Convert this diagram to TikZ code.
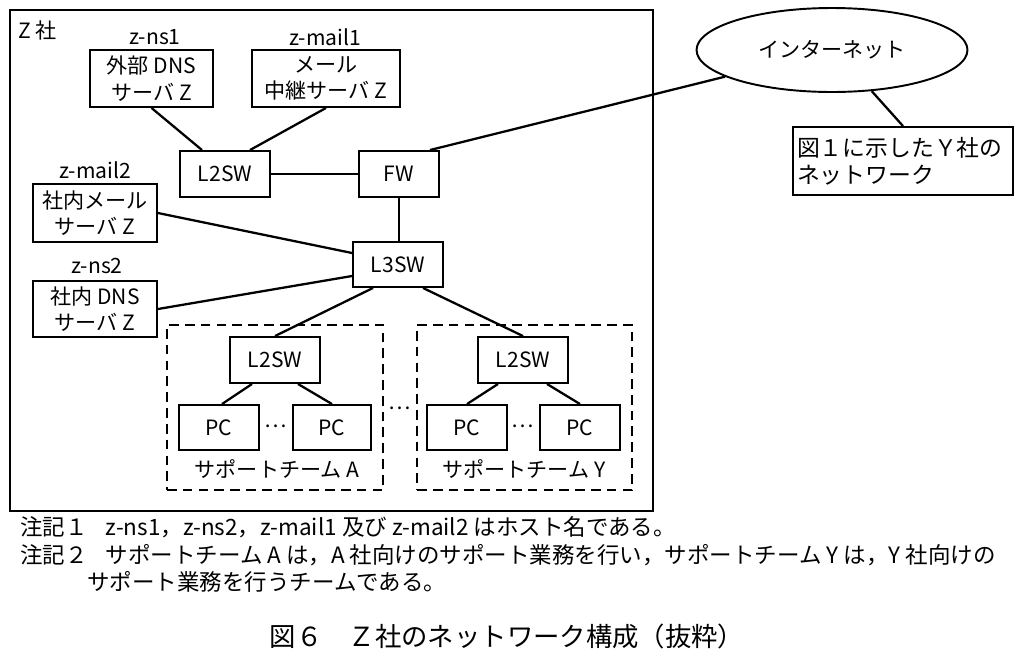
\documentclass[tikz,border=0pt]{standalone}
\usepackage{fontspec}
\setmainfont{Noto Sans CJK JP}
\usetikzlibrary{shapes.geometric}
\begin{document}
\begin{tikzpicture}[x=0.02cm,y=-0.02cm,
  box/.style={draw, line width=1.1pt, inner sep=0pt, align=center, font=\fontsize{12}{15}\selectfont},
  lbl/.style={inner sep=0pt, font=\fontsize{12}{14}\selectfont},
  link/.style={line width=1.3pt},
  teambox/.style={draw, line width=1.1pt, dash pattern=on 5.5pt off 3.5pt, inner sep=0pt},
  note/.style={inner sep=0pt, anchor=west, font=\fontsize{12.8}{15}\selectfont}]
\useasboundingbox (0,0) rectangle (1024,660);
\fill[white] (0,0) rectangle (1024,660);
% outer company box
\node[draw, line width=1.1pt, minimum width=12.86cm, minimum height=10.02cm, inner sep=0pt] (zco) at (331.5,260.5) {};
\node[lbl, anchor=west] (zlbl) at (18,30) {Z 社};
% servers
\node[lbl] (h1) at (155,37) {z-ns1};
\node[box, minimum width=2.46cm, minimum height=1.14cm] (ns1) at (151.5,78.5) {外部 DNS\\サーバ Z};
\node[lbl] (h2) at (325,37) {z-mail1};
\node[box, minimum width=2.96cm, minimum height=1.14cm] (mail1) at (326,78.5) {メール\\中継サーバ Z};
\node[lbl] (h3) at (95,170) {z-mail2};
\node[box, minimum width=2.48cm, minimum height=1.16cm] (mail2) at (95,213) {社内メール\\サーバ Z};
\node[lbl] (h4) at (97,266) {z-ns2};
\node[box, minimum width=2.48cm, minimum height=1.12cm] (ns2) at (95,309) {社内 DNS\\サーバ Z};
% switches
\node[box, minimum width=1.8cm, minimum height=0.92cm] (l2top) at (225,174) {L2SW};
\node[box, minimum width=1.6cm, minimum height=0.92cm] (fw) at (399,174) {FW};
\node[box, minimum width=1.8cm, minimum height=0.9cm] (l3) at (398,264.5) {L3SW};
% internet
\node[draw, ellipse, line width=1.1pt, minimum width=5.42cm, minimum height=1.68cm, inner sep=0pt, font=\fontsize{12}{14}\selectfont] (inet) at (832,50) {インターネット};
\node[box, minimum width=4.4cm, minimum height=1.36cm, align=left, text width=4.24cm, font=\fontsize{13}{15.5}\selectfont] (ynet) at (903,161) {図１に示したＹ社の\\ネットワーク};
% teams
\node[teambox, minimum width=4.32cm, minimum height=3.3cm] (teamA) at (275,407.5) {};
\node[teambox, minimum width=4.3cm, minimum height=3.3cm] (teamY) at (524.5,407.5) {};
\node[box, minimum width=1.8cm, minimum height=0.92cm] (l2a) at (275,360) {L2SW};
\node[box, minimum width=1.8cm, minimum height=0.92cm] (l2y) at (523,360) {L2SW};
\node[box, minimum width=1.6cm, minimum height=0.9cm] (pa1) at (219,427.5) {PC};
\node[box, minimum width=1.56cm, minimum height=0.9cm] (pa2) at (332,427.5) {PC};
\node[box, minimum width=1.6cm, minimum height=0.9cm] (py1) at (467,427.5) {PC};
\node[box, minimum width=1.6cm, minimum height=0.9cm] (py2) at (580,427.5) {PC};
\node[lbl] (dA) at (276,426) {…};
\node[lbl] (dY) at (523,426) {…};
\node[lbl] (dM) at (400,408) {…};
\node[lbl] (tA) at (277,469) {サポートチーム A};
\node[lbl] (tY) at (524,469) {サポートチーム Y};
% links
\draw[link] (ns1.south) -- ([xshift=-0.46cm]l2top.north);
\draw[link] (mail1.south) -- ([xshift=0.5cm]l2top.north);
\draw[link] (l2top.east) -- (fw.west);
\draw[link] ([xshift=-0.2cm]fw.north east) -- (inet.194);
\draw[link] (inet.314) -- (ynet.north);
\draw[link] (fw.south) -- (fw.south |- l3.north);
\draw[link] (mail2.east) -- ([yshift=0.23cm]l3.west);
\draw[link] (ns2.east) -- ([yshift=-0.23cm]l3.west);
\draw[link] ([xshift=-0.5cm]l3.south) -- (l2a.north);
\draw[link] ([xshift=0.5cm]l3.south) -- (l2y.north);
\draw[link] ([xshift=-0.46cm]l2a.south) -- ([xshift=0.06cm]pa1.north);
\draw[link] ([xshift=0.46cm]l2a.south) -- (pa2.north);
\draw[link] ([xshift=-0.5cm]l2y.south) -- (py1.north);
\draw[link] ([xshift=0.48cm]l2y.south) -- (py2.north);
% notes
\node[note] (n1) at (20,527) {注記１\hspace{0.8em}z-ns1，z-ns2，z-mail1 及び z-mail2 はホスト名である。};
\node[note] (n2) at (20,555) {注記２\hspace{0.8em}サポートチーム A は，A 社向けのサポート業務を行い，サポートチーム Y は，Y 社向けの};
\node[note] (n3) at (87,582) {サポート業務を行うチームである。};
\node[inner sep=0pt, font=\fontsize{15}{17}\selectfont] (cap) at (507,636) {図６\hspace{1em}Ｚ社のネットワーク構成（抜粋）};
\end{tikzpicture}
\end{document}
